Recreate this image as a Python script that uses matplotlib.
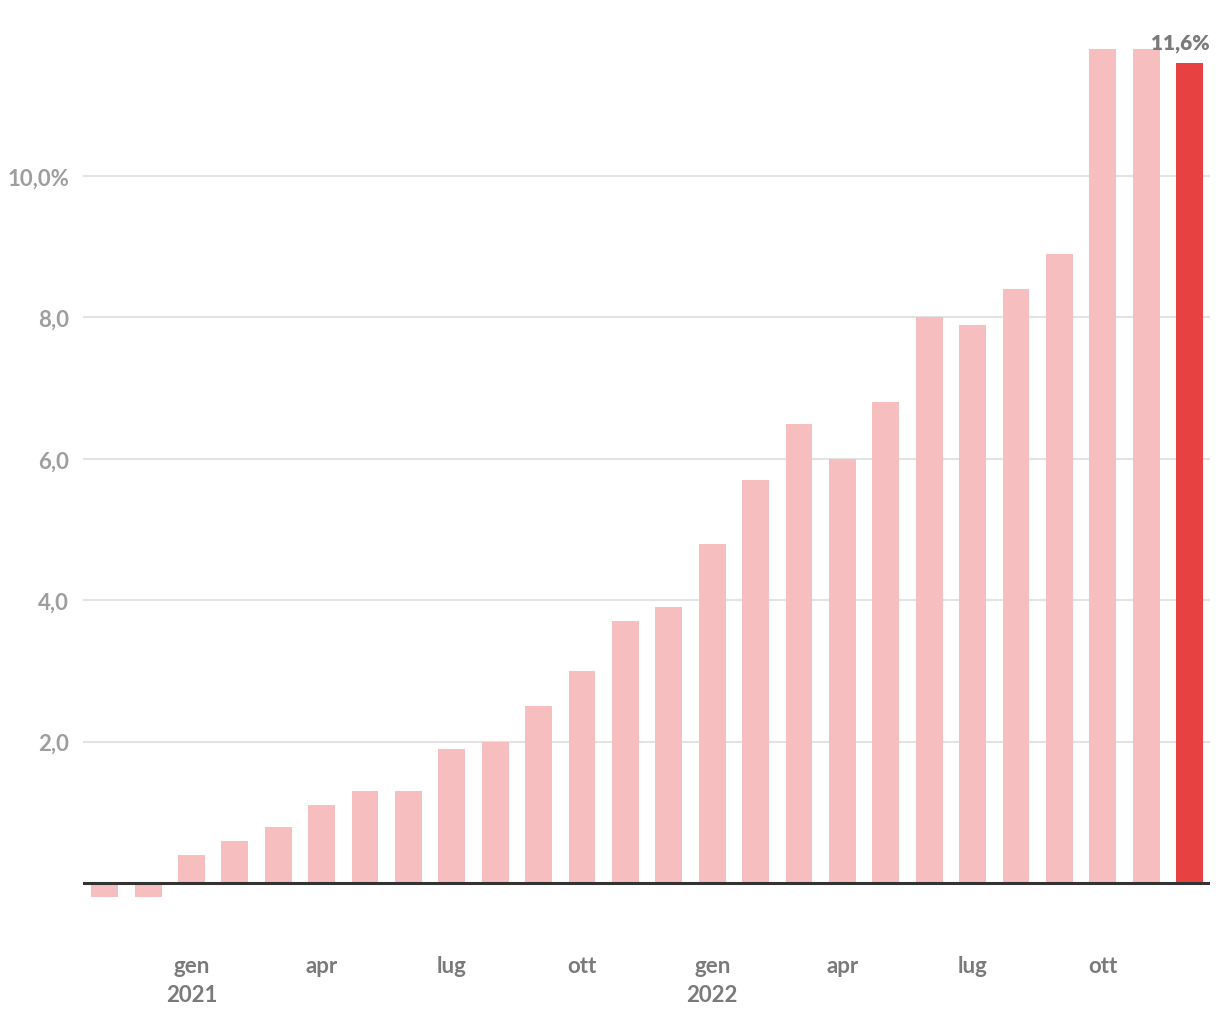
import matplotlib
matplotlib.use("Agg")
import matplotlib.pyplot as plt

values = [-0.2, -0.2, 0.4, 0.6, 0.8, 1.1, 1.3, 1.3, 1.9, 2.0, 2.5, 3.0, 3.7,
          3.9, 4.8, 5.7, 6.5, 6.0, 6.8, 8.0, 7.9, 8.4, 8.9, 11.8, 11.8, 11.6]
months = ["nov", "dic", "gen", "feb", "mar", "apr", "mag", "giu", "lug", "ago", "set", "ott",
          "nov", "dic", "gen", "feb", "mar", "apr", "mag", "giu", "lug", "ago", "set", "ott",
          "nov", "dic"]
tick_months = ["gen", "apr", "lug", "ott"]
years = {2: "2021", 14: "2022"}
yticks = [2, 4, 6, 8, 10]
ytick_labels = ["2,0", "4,0", "6,0", "8,0", "10,0%"]
last_label = "11,6%"

plt.rcParams['font.family'] = ['Lato', 'DejaVu Sans']

fig = plt.figure(figsize=(12.2, 10.2), dpi=100)
ax = fig.add_axes([0.068, 0.0986, 0.9238, 0.8803])

light = "#f6bebe"
strong = "#e84142"
colors = [light] * (len(values) - 1) + [strong]
x = list(range(len(values)))
ax.bar(x, values, width=0.62, color=colors, zorder=2)

xmax = len(values) - 0.53
ax.set_xlim(-0.5, xmax)
ax.set_ylim(-0.5, 12.2)

for y in yticks:
    ax.axhline(y, color="#e3e3e3", lw=1.5, zorder=1)
ax.axhline(0, color="#333333", lw=2.2, zorder=3)

ax.set_yticks(yticks)
ax.set_yticklabels(ytick_labels)
ax.tick_params(axis="y", length=0, pad=10, labelsize=16, labelcolor="#9e9e9e")
for t in ax.get_yticklabels():
    t.set_fontweight("bold")

ax.set_xticks([])
for s in ax.spines.values():
    s.set_visible(False)

for i, m in enumerate(months):
    if m in tick_months:
        ax.text(i, -1.16, m, ha="center", va="center", fontsize=16,
                color="#7a7a7a", fontweight="bold", clip_on=False)
    if i in years:
        ax.text(i, -1.57, years[i], ha="center", va="center", fontsize=16,
                color="#7a7a7a", fontweight="bold", clip_on=False)

ax.text(xmax, values[-1] + 0.15, last_label, ha="right", va="bottom",
        fontsize=15, color="#7a7a7a", fontweight="heavy", clip_on=False)

fig.savefig("out.png", dpi=100)
